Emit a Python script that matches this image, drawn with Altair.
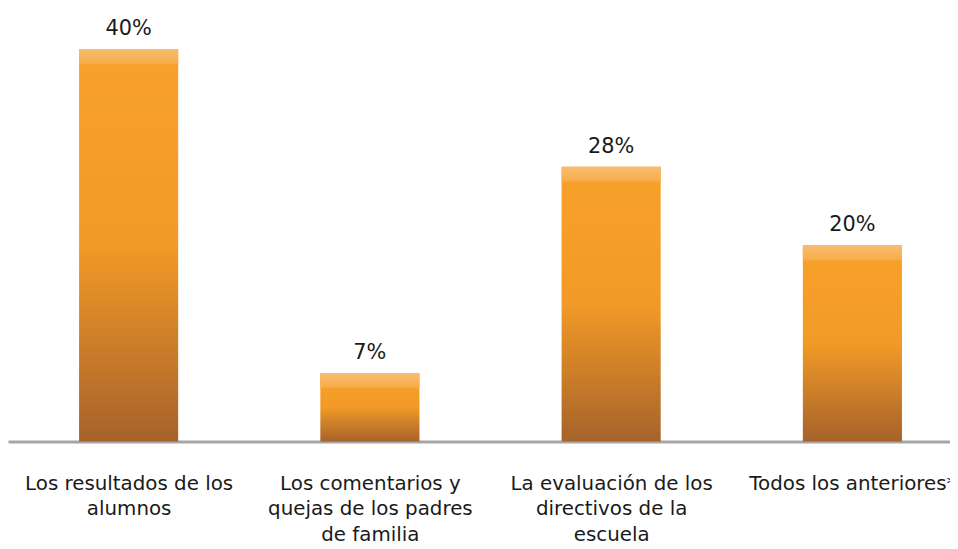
import altair as alt
import pandas as pd

categories = [
    "Los resultados de los|alumnos",
    "Los comentarios y|quejas de los padres|de familia",
    "La evaluación de los|directivos de la|escuela",
    "Todos los anteriores*",
]
values = [40, 7, 28, 20]
value_labels = ["40%", "7%", "28%", "20%"]

df = pd.DataFrame({"cat": categories, "v": values, "lab": value_labels})
df["idx"] = range(len(categories))
half = 0.2054
df["x0"] = df["idx"] - half
df["x1"] = df["idx"] + half
df["zero"] = 0

FONT = "DejaVu Sans"
label_expr = "split([" + ",".join("'" + c + "'" for c in categories) + "][datum.value], '|')"

xscale = alt.Scale(domain=[-0.5, -0.5 + 941 / 241], nice=False, zero=False, padding=0)
yscale = alt.Scale(domain=[0, 43.94], nice=False, zero=True, padding=0)

x_axis = alt.Axis(values=[0, 1, 2, 3], labelExpr=label_expr, labelAngle=0,
                  labelFont=FONT, labelFontSize=20, labelColor="#1a1a1a",
                  labelBaseline="alphabetic", labelPadding=48, labelLineHeight=26,
                  labelLimit=400, labelFlush=False, labelBound=False,
                  ticks=False, domainColor="#a6a6a6", domainWidth=3,
                  labelOverlap=False, grid=False, title=None)

y = alt.Y("v:Q", scale=yscale, axis=None)

main_grad = alt.LinearGradient(
    gradient="linear", x1=0, y1=0, x2=0, y2=1,
    stops=[alt.GradientStop(offset=0, color="#f8a12a"),
           alt.GradientStop(offset=0.5, color="#f29a27"),
           alt.GradientStop(offset=1, color="#a6622a")])
bevel_grad = alt.LinearGradient(
    gradient="linear", x1=0, y1=0, x2=0, y2=1,
    stops=[alt.GradientStop(offset=0, color="#f7bd70"),
           alt.GradientStop(offset=1, color="#f8ac4a")])

bars = alt.Chart(df).mark_bar(color=main_grad, orient="vertical").encode(
    x=alt.X("x0:Q", scale=xscale, axis=x_axis), x2="x1:Q", y=y, y2="zero:Q")
bevel = alt.Chart(df).mark_bar(color=bevel_grad, orient="vertical", y2Offset=15).encode(
    x=alt.X("x0:Q", scale=xscale), x2="x1:Q", y=y, y2="v:Q")
text = alt.Chart(df).mark_text(font=FONT, fontSize=21, color="#1a1a1a",
                               baseline="alphabetic", dy=-14).encode(
    x=alt.X("idx:Q", scale=xscale), y=y, text="lab:N")

chart = (bars + bevel + text).properties(
    width=950, height=435,
    padding={"left": 0, "top": 0, "right": 0, "bottom": 104},
    autosize=alt.AutoSizeParams(type="none")
).configure(background="white").configure_view(stroke="transparent", strokeWidth=0)

chart.save("out.html", embed_options={"renderer": "svg", "actions": False})
